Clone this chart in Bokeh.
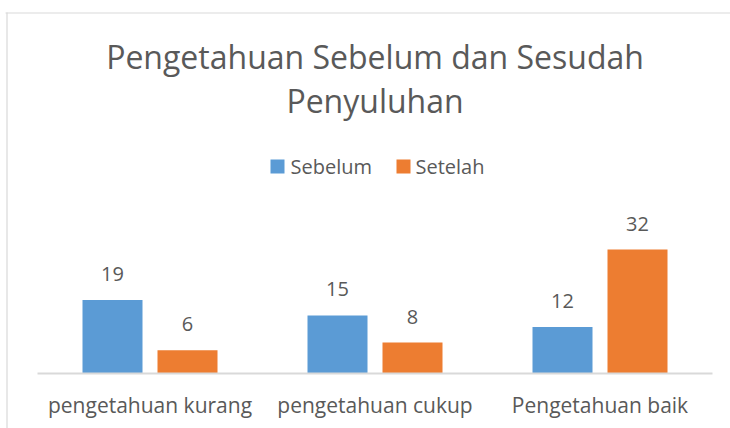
from bokeh.plotting import figure
from bokeh.models import Range1d, ColumnDataSource
from bokeh.core.properties import value
from bokeh.embed import file_html
from bokeh.resources import INLINE

# ---- data ----
categories = ["pengetahuan kurang", "pengetahuan cukup", "Pengetahuan baik"]
series_names = ["Sebelum", "Setelah"]
sebelum = [19, 15, 12]
setelah = [6, 8, 32]
title_lines = ["Pengetahuan Sebelum dan Sesudah", "Penyuluhan"]

# ---- layout (pixels) ----
W, H = 730, 428
PX_PER_CAT = 225.0
PX_PER_UNIT = 3.875
AXIS_LEFT_PX = 37
AXIS_Y_PX = 373

x_start = -AXIS_LEFT_PX / PX_PER_CAT
x_end = x_start + W / PX_PER_CAT
y_start = -(H - AXIS_Y_PX) / PX_PER_UNIT
y_end = y_start + H / PX_PER_UNIT

def px_x(px):
    return x_start + px / PX_PER_CAT

def px_y(py):
    return y_end - py / PX_PER_UNIT

FONT = value("Open Sans")
GRAY = "#595959"
BLUE = "#5B9BD5"
ORANGE = "#ED7D31"
LINE = "#D9D9D9"

p = figure(width=W, height=H, x_range=Range1d(x_start, x_end), y_range=Range1d(y_start, y_end),
           output_backend="svg", toolbar_location=None,
           x_axis_location=None, y_axis_location=None, min_border=0)
p.grid.visible = False
p.outline_line_color = None
p.background_fill_color = "white"
p.border_fill_color = "white"

# chart border (top & left visible)
p.segment(x0=[px_x(5), px_x(6.5)], y0=[px_y(12.5), px_y(12)], x1=[px_x(730), px_x(6.5)], y1=[px_y(12.5), px_y(428)],
          line_color=LINE, line_width=1.2)

n = len(categories)
bar_w = 60 / PX_PER_CAT
off = 37.5 / PX_PER_CAT
xs = [i + 0.5 for i in range(n)]

src = ColumnDataSource(dict(
    xb=[x - off for x in xs], xo=[x + off for x in xs],
    sebelum=sebelum, setelah=setelah,
    lb=[str(v) for v in sebelum], lo=[str(v) for v in setelah],
    xc=xs, cat=categories, yc=[px_y(404)] * n,
))

p.vbar(x="xb", top="sebelum", bottom=0, width=bar_w, source=src, fill_color=BLUE, line_color=None)
p.vbar(x="xo", top="setelah", bottom=0, width=bar_w, source=src, fill_color=ORANGE, line_color=None)

# category axis line
p.segment(x0=[0], y0=[0], x1=[n], y1=[0], line_color=LINE, line_width=2)

# data labels
p.text(x="xb", y="sebelum", text="lb", source=src, text_font=FONT, text_font_size="20px",
       text_color=GRAY, text_align="center", text_baseline="alphabetic", y_offset=-26)
p.text(x="xo", y="setelah", text="lo", source=src, text_font=FONT, text_font_size="20px",
       text_color=GRAY, text_align="center", text_baseline="alphabetic", y_offset=-26)

# category labels
p.text(x="xc", y="yc", text="cat", source=src, text_font=FONT, text_font_size="21px",
       text_color=GRAY, text_align="center", text_baseline="alphabetic")

# title
p.text(x=[px_x(374.5)] * 2, y=[px_y(56), px_y(100)], text=title_lines, text_font=FONT,
       text_font_size="32px", text_color=GRAY, text_align="center", text_baseline="alphabetic")

# legend
p.rect(x=[px_x(277), px_x(403)], y=[px_y(166)] * 2, width=14 / PX_PER_CAT, height=14 / PX_PER_UNIT,
       fill_color=[BLUE, ORANGE], line_color=None)
p.text(x=[px_x(290), px_x(415)], y=[px_y(166)] * 2, text=series_names, text_font=FONT,
       text_font_size="20px", text_color=GRAY, text_align="left", text_baseline="alphabetic")

open("out.html", "w").write(file_html(p, INLINE))
